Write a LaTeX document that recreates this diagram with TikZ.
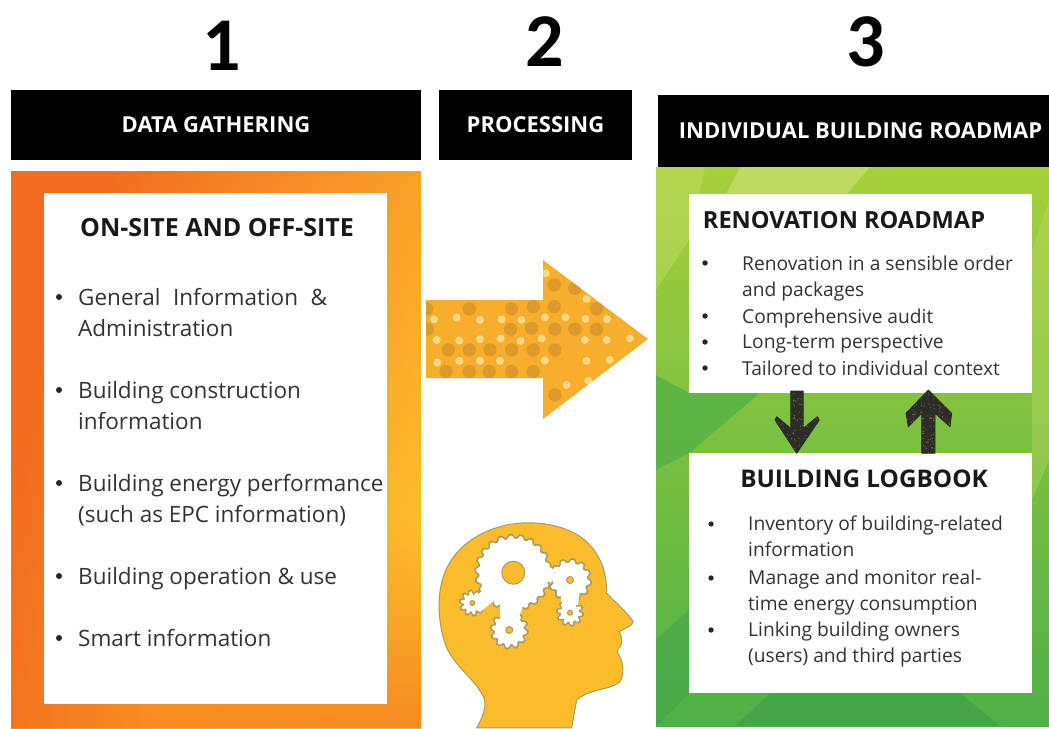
\documentclass[tikz,border=0pt]{standalone}
\usepackage{fontspec}
\usetikzlibrary{fadings}
\setmainfont{Open Sans}
\newfontfamily\numfont{Carlito}
\definecolor{dotdark}{HTML}{DC9A2A}
\definecolor{dotlight}{HTML}{FBD888}
\definecolor{arrowor}{HTML}{F7AE2C}
\definecolor{headyel}{HTML}{FBBC2C}
\definecolor{headline}{HTML}{A89C62}
\definecolor{inktext}{HTML}{333333}
\definecolor{orgdark}{HTML}{F36A21}
\definecolor{orgmid}{HTML}{F68B22}
\definecolor{orglight}{HTML}{FDBF2B}
\definecolor{grtop}{HTML}{A6D03A}
\definecolor{grmid}{HTML}{86C440}
\definecolor{grbot}{HTML}{4FB047}
\definecolor{grfacet}{HTML}{C9E070}
\definecolor{grdeep}{HTML}{3FA24A}
\definecolor{arrowink}{HTML}{2D2D28}
\newcommand{\gearpath}[4]{plot[samples=#4*8+1,domain=0:360,variable=\t] ({#1+(#3-1.6+1.6*max(min(3*sin(#4*\t),1),-1))*cos(\t)},{#2+(#3-1.6+1.6*max(min(3*sin(#4*\t),1),-1))*sin(\t)}) -- cycle}
\tikzset{
  bar/.style={fill=black,draw=none,text=white,font=\fontsize{22}{26}\selectfont\bfseries,anchor=center},
  num/.style={font=\numfont\fontsize{76}{76}\selectfont\bfseries,text=black,inner sep=0pt},
  whitebox/.style={fill=white,draw=none},
  boxtitle/.style={font=\fontsize{24.3}{28}\selectfont\bfseries,text=black!90,inner sep=0pt},
  biglist/.style={font=\fontsize{22.5}{31.5}\selectfont,text=inktext,align=left,anchor=north west,inner sep=0pt},
  smalllist/.style={font=\fontsize{19.2}{26.5}\selectfont,text=inktext,align=left,anchor=north west,inner sep=0pt},
  darkarrow/.style={fill=arrowink,draw=arrowink,line width=.8pt,line join=round},
  gearedge/.style={draw=headline,line width=2pt,fill=white},
  gearfill/.style={fill=white},
  gearhole/.style={draw=headline,fill=headyel,line width=1pt}
}
\begin{document}
\begin{tikzpicture}[x=1pt,y=-1pt]
\useasboundingbox (0,0) rectangle (1049,728);
\fill[white] (0,0) rectangle (1049,728);
% orange panel
\fill[left color=orgdark,right color=orglight,shading angle=65] (11,171) rectangle (421,728);
\fill[orgmid,path fading=north] (11,520) rectangle (421,728);
\fill[orgdark,path fading=east,opacity=.7] (11,171) rectangle (140,728);
% green panel
\fill[top color=grtop,middle color=grmid,bottom color=grbot] (656,167) rectangle (1049,726);
\fill[grfacet,opacity=.7] (740,167) -- (870,167) -- (845,196) -- (725,196) -- cycle;
\fill[grfacet,opacity=.4] (656,167) -- (705,167) -- (689,240) -- (656,290) -- cycle;
\fill[grbot,opacity=.7] (656,375) -- (689,393) -- (760,393) -- (689,453) -- (656,470) -- cycle;
\fill[grfacet,opacity=.3] (1032,250) -- (1049,200) -- (1049,460) -- (1032,500) -- cycle;
\fill[grdeep,opacity=.7] (735,726) -- (770,693) -- (960,693) -- (1000,726) -- cycle;
\fill[grdeep,opacity=.5] (656,640) -- (689,610) -- (689,693) -- (656,726) -- cycle;
% black headers
\node[bar,minimum width=410pt,minimum height=70pt] (h1) at (216,125) {DATA GATHERING};
\node[bar,minimum width=193pt,minimum height=70pt] (h2) at (535.5,125) {PROCESSING};
\node[bar,minimum width=391pt,minimum height=72pt] (h3) at (853.5,131) {\hspace*{14pt}INDIVIDUAL BUILDING ROADMAP};
\node[num] (n1) at (222,46) {1};
\node[num] (n2) at (545,42) {2};
\node[num] (n3) at (866,42) {3};
% white boxes
\node[whitebox,minimum width=343pt,minimum height=511pt] (leftbox) at (215.5,448.5) {};
\node[whitebox,minimum width=343pt,minimum height=199pt] (roadbox) at (860.5,293.5) {};
\node[whitebox,minimum width=343pt,minimum height=240pt] (logbox) at (860.5,573) {};
% left content
\node[boxtitle,font=\fontsize{25}{28}\selectfont\bfseries] (t1) at (217,228) {ON-SITE AND OFF-SITE};
\node[biglist] (l1) at (78,288) {General\hspace{.3em} Information\hspace{.3em} \&\\Administration};
\node[biglist] (l2) at (78,381) {Building construction\\information};
\node[biglist] (l3) at (78,474) {Building energy performance\\(such as EPC information)};
\node[biglist] (l4) at (78,567) {Building operation \& use};
\node[biglist] (l5) at (78,629) {Smart information};
\foreach \y in {297,390,483,576,638} \fill[black!85] (59,\y) circle (3);
% road content
\node[boxtitle,font=\fontsize{23.6}{28}\selectfont\bfseries] (t2) at (844,220) {RENOVATION ROADMAP};
\node[smalllist] (r1) at (742,255.5) {Renovation in a sensible order\\and packages};
\node[smalllist] (r2) at (742,308.5) {Comprehensive audit};
\node[smalllist] (r3) at (742,334.5) {Long-term perspective};
\node[smalllist] (r4) at (742,360.5) {Tailored to individual context};
\foreach \y in {263,316,342,368} \fill[black!85] (705,\y) circle (2.7);
% log content
\node[boxtitle] (t3) at (864,479) {BUILDING LOGBOOK};
\node[smalllist] (b1) at (748,515.5) {Inventory of building-related\\information};
\node[smalllist] (b2) at (748,569.5) {Manage and monitor real-\\time energy consumption};
\node[smalllist] (b3) at (748,621.5) {Linking building owners\\(users) and third parties};
\foreach \y in {524,578,630} \fill[black!85] (711,\y) circle (2.7);
% arrows between boxes
\coordinate (da) at (790.7,391);
\coordinate (ua) at (921.7,453.3);
\pgfmathsetseed{7}
\begin{scope}
\path[darkarrow] (da) -- (790.7,428.3) -- (776.7,416.7) -- (775,420) -- (796.7,453.3) -- (819.3,420) -- (817.3,416.7) -- (803.3,428.3) -- (803.3,391) -- cycle;
\clip (da) -- (790.7,428.3) -- (776.7,416.7) -- (775,420) -- (796.7,453.3) -- (819.3,420) -- (817.3,416.7) -- (803.3,428.3) -- (803.3,391) -- cycle;
\foreach \i in {1,...,160} \fill[olive!40!white,opacity=.45] ({775+44*rnd},{391+62*rnd}) circle (.55);
\end{scope}
\begin{scope}
\path[darkarrow] (ua) -- (921.7,413.3) -- (908.3,426.7) -- (906,413.3) -- (928.3,390) -- (951.7,413.3) -- (950,426.7) -- (935,413.3) -- (935,453.3) -- cycle;
\clip (ua) -- (921.7,413.3) -- (908.3,426.7) -- (906,413.3) -- (928.3,390) -- (951.7,413.3) -- (950,426.7) -- (935,413.3) -- (935,453.3) -- cycle;
\foreach \i in {1,...,160} \fill[olive!40!white,opacity=.45] ({906+46*rnd},{390+63*rnd}) circle (.55);
\end{scope}
% big arrow
\begin{scope}
\clip (426,300) -- (543,300) -- (543,260) -- (648,339) -- (543,419) -- (543,378) -- (426,378) -- cycle;
\fill[arrowor] (420,255) rectangle (650,425);
\begin{scope}[shift={(420,240)},x=.333pt,y=-.333pt]
\foreach \x/\y in {20/207,148/207,275/207,340/200,403/135,403/200,465/145,530/207,272/268,335/265,405/268,465/268,530/268,85/330,148/330,210/330,275/330,340/330,405/330,78/395,148/395,208/395,275/395,340/395,405/465,22/268}
  \fill[dotdark] (\x,\y) circle (20);
\foreach \x/\y in {42/238,110/233,180/240,245/238,305/240,375/232,437/232,497/237,562/238,50/300,118/302,180/298,242/296,302/303,365/296,495/300,560/300,630/295,52/368,118/363,180/363,240/363,375/362,500/363,570/360,440/435,378/100,500/177,505/422}
  \fill[dotlight] (\x,\y) circle (12);
\end{scope}
\end{scope}
% head
\begin{scope}[shift={(430,500)},x=.3333pt,y=-.3333pt]
\draw[fill=headyel,draw=headline,line width=1pt,line join=round] (140,684) .. controls (165,640) and (170,610) .. (160,590) .. controls (130,530) and (70,500) .. (45,430) .. controls (25,370) and (20,290) .. (40,230) .. controls (70,140) and (150,90) .. (240,73) .. controls (330,58) and (430,80) .. (480,135) .. controls (520,180) and (530,230) .. (530,280) .. controls (555,305) and (590,335) .. (610,365) .. controls (605,380) and (585,385) .. (568,395) .. controls (575,410) and (578,425) .. (572,438) .. controls (565,445) and (560,452) .. (562,458) .. controls (580,480) and (585,520) .. (570,545) .. controls (545,570) and (480,565) .. (440,600) -- (425,684) -- cycle;
\end{scope}
% gears
\path[gearedge] \gearpath{513.3}{572.7}{38}{22};
\path[gearedge] \gearpath{472.3}{603}{12.5}{10};
\path[gearedge] \gearpath{509.3}{630}{18.5}{12};
\path[gearedge] \gearpath{570}{580}{21}{12};
\path[gearedge] \gearpath{570}{612.7}{13}{10};
\fill[gearfill] \gearpath{513.3}{572.7}{37}{22};
\fill[gearfill] \gearpath{472.3}{603}{11.5}{10};
\fill[gearfill] \gearpath{509.3}{630}{17.5}{12};
\fill[gearfill] \gearpath{570}{580}{20}{12};
\fill[gearfill] \gearpath{570}{612.7}{12}{10};
\fill[gearfill] (485,588) -- (495,600) -- (480,612) -- (472,600) -- cycle;
\fill[gearfill] (500,600) -- (525,600) -- (518,620) -- (500,620) -- cycle;
\fill[gearfill] (560,590) -- (580,590) -- (578,605) -- (562,605) -- cycle;
\fill[gearfill] (545,565) -- (555,570) -- (552,582) -- (545,582) -- cycle;
\path[gearhole] (513.3,572.7) circle (11.5);
\foreach \x/\y/\r in {472.3/603/2.5,509.3/630/3.5,570/580/3.5,570/612.7/2.5}
  \path[gearhole] (\x,\y) circle (\r);
\end{tikzpicture}
\end{document}
